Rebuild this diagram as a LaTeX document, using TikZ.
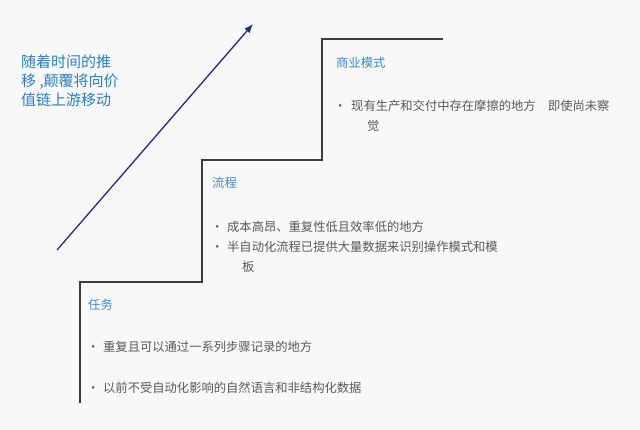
\documentclass[tikz,border=0pt]{standalone}
\usepackage{fontspec}
\setmainfont{Noto Sans CJK SC}
\usetikzlibrary{arrows.meta}
\definecolor{trendblue}{HTML}{2B80C5}
\definecolor{titleblue}{HTML}{3C8ACF}
\definecolor{itemgray}{HTML}{595959}
\definecolor{stairgray}{HTML}{3C3C3C}
\definecolor{arrownavy}{HTML}{1F2D7D}
\definecolor{paper}{HTML}{F8F8F8}

\begin{document}
\begin{tikzpicture}[x=1pt, y=-1pt,
	steptitle/.style = {anchor=west, inner sep=0pt, text=titleblue, font=\fontsize{12.3}{15}\selectfont},
	stepitems/.style = {anchor=base west, inner sep=0pt, align=left, text=itemgray, font=\fontsize{12.3}{20}\selectfont}]
			\fill[paper] (0,0) rectangle (640,430);
			\useasboundingbox (0,0) rectangle (640,430);

			% stairs
			\draw[stairgray, line width=1.8pt] (80,403) |- (202,282) |- (322,160) |- (443,39);

			\coordinate (trendstart) at (57,250);
			\coordinate (trendend) at (253,24);
			\draw[-{Latex[length=9pt, width=7pt]}, arrownavy, line width=1.3pt] (trendstart) -- (trendend);

			% base is the last line of each text
			\node[anchor=base west, inner sep=0pt, align=left, text=trendblue, font=\fontsize{15}{19}\selectfont] (trend) at (21,105.7) {随着时间的推\\移 ,颠覆将向价\\值链上游移动};

			\node[steptitle] (model) at (336,63) {商业模式};
			\node[steptitle] (process) at (212,183) {流程};
			\node[steptitle] (task) at (88,305) {任务};

			\node[stepitems] (modelitems) at (334,130.7) {\makebox[17pt][l]{·}现有生产和交付中存在摩擦的地方　即使尚未察\\\hspace{33pt}觉};
			\node[stepitems] (processitems) at (211,271.7) {\makebox[16pt][l]{·}成本高昂、重复性低且效率低的地方\\\makebox[16pt][l]{·}半自动化流程已提供大量数据来识别操作模式和模\\\hspace{31pt}板};
			\node[stepitems] (taskitems) at (87,392.7) {\makebox[16pt][l]{·}重复且可以通过一系列步骤记录的地方\\[21pt]\makebox[16pt][l]{·}以前不受自动化影响的自然语言和非结构化数据};
		\end{tikzpicture}
\end{document}
